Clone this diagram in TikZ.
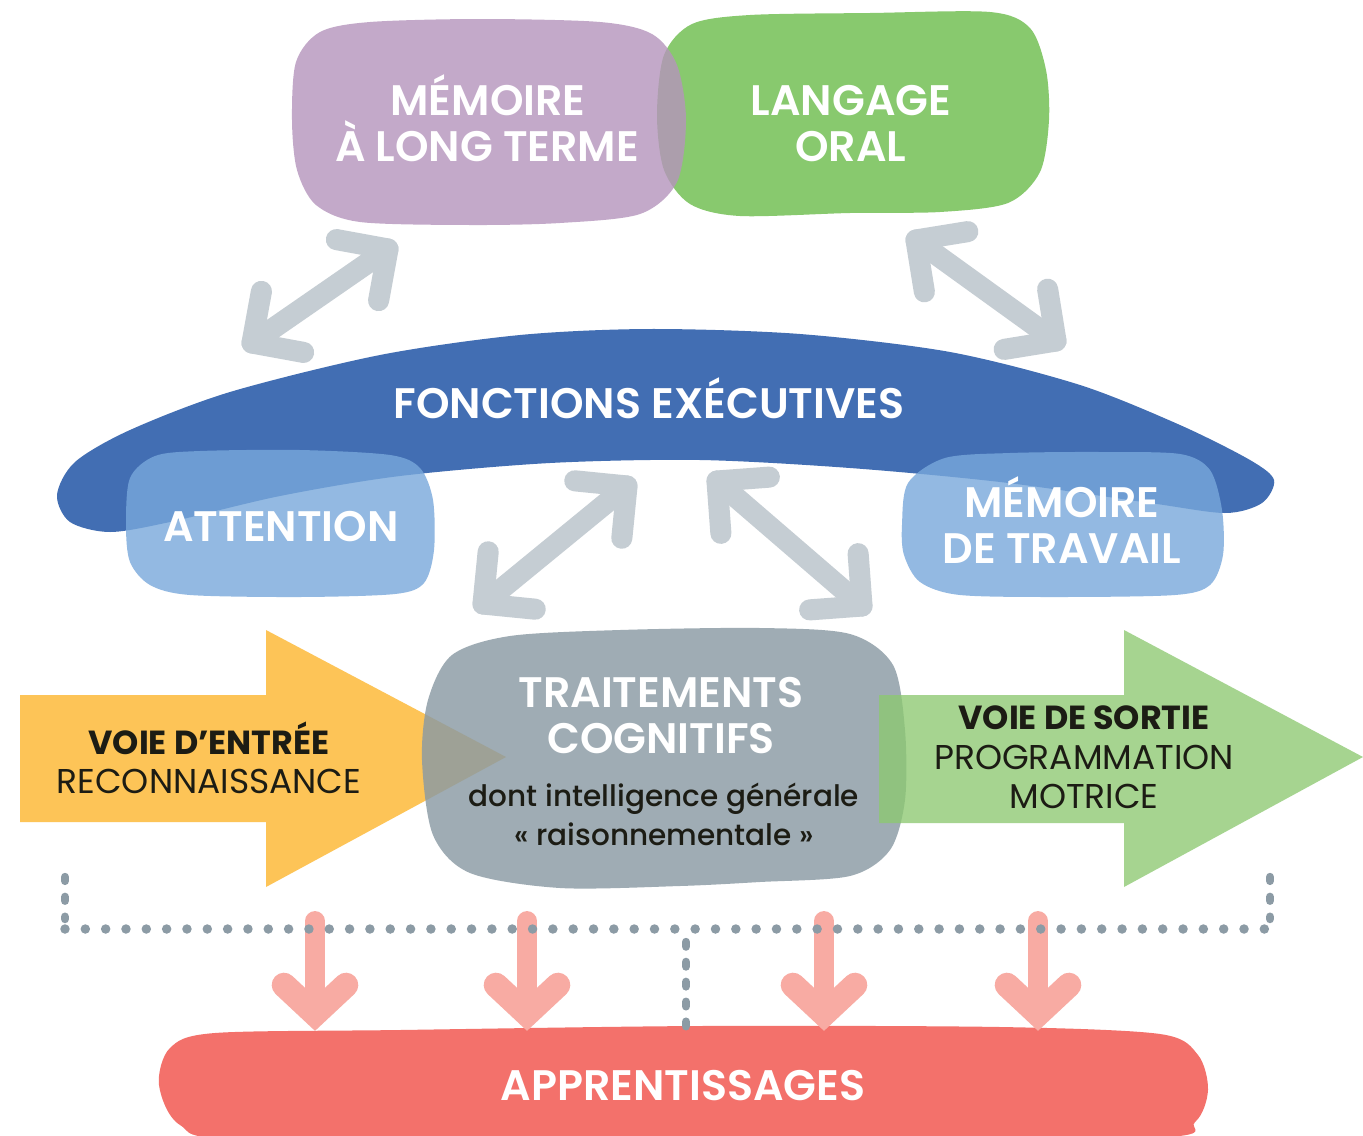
\documentclass[tikz,border=0pt]{standalone}
\usepackage{fontspec}
\setmainfont{Poppins}
\IfFontExistsTF{Poppins SemiBold}{\newfontfamily\semib{Poppins SemiBold}}{\newfontfamily\semib{Poppins}[FakeBold=1.2]}
\IfFontExistsTF{Poppins Medium}{\newfontfamily\medf{Poppins Medium}}{\newfontfamily\medf{Poppins}}
\usetikzlibrary{calc}
\definecolor{greenC}{RGB}{136,201,110}
\definecolor{purpleC}{RGB}{181,148,188}
\definecolor{bandC}{RGB}{66,110,179}
\definecolor{lightC}{RGB}{120,168,219}
\definecolor{garC}{RGB}{197,205,211}
\definecolor{yellowC}{RGB}{253,196,87}
\definecolor{greyC}{RGB}{138,154,164}
\definecolor{outC}{RGB}{141,201,113}
\definecolor{dotC}{RGB}{140,155,165}
\definecolor{pinkC}{RGB}{248,171,163}
\definecolor{redC}{RGB}{243,113,107}
\definecolor{darkC}{RGB}{28,28,20}
\tikzset{
  wlab/.style={text=white, font=\semib\fontsize{24.3}{28}\selectfont, anchor=base, inner sep=0pt},
  dlab/.style={text=darkC, anchor=base, inner sep=0pt},
  garrow/.style={draw=garC, line width=12pt, line cap=round, line join=round},
  pshaft/.style={draw=pinkC, line width=11.3pt, line cap=round},
  phead/.style={draw=pinkC, line width=14pt, line cap=round, line join=miter},
  dotline/.style={draw=dotC, line width=5.4pt, line cap=round, dash pattern=on 0pt off 11.57pt},
  vdotline/.style={draw=dotC, line width=4.8pt, line cap=round, dash pattern=on 2.2pt off 9.1pt},
}
\newcommand\dblarr[2]{%
  \draw[garrow] (#1) -- (#2);
  \draw[garrow] ($(#1)!1.05cm!45:(#2)$) -- (#1) -- ($(#1)!1.05cm!-45:(#2)$);
  \draw[garrow] ($(#2)!1.05cm!45:(#1)$) -- (#2) -- ($(#2)!1.05cm!-45:(#1)$);
}
\newcommand\parr[1]{%
  \draw[pshaft] (#1) ++(0,-93) -- (#1);
  \draw[phead] ($(#1)+(-31,-29)$) -- (#1) -- ($(#1)+(31,-29)$);
}
\begin{document}
\begin{tikzpicture}[x=0.02cm, y=-0.02cm]
\useasboundingbox (0,0) rectangle (1363,1136);
\fill[white] (0,0) rectangle (1363,1136);

% top blobs
\fill[greenC] plot[smooth cycle] coordinates {(657,115) (664,55) (692,24) (750,15) (870,13) (990,12) (1030,28) (1046,70) (1049,120) (1040,172) (1008,203) (940,212) (850,213) (740,216) (690,204) (664,170)};
\fill[purpleC, fill opacity=0.8] plot[smooth cycle] coordinates {(292,120) (296,62) (320,32) (370,22) (480,19) (600,22) (652,34) (677,65) (686,120) (677,182) (640,214) (560,223) (470,225) (360,222) (316,205) (297,170)};

% executive functions band
\fill[bandC] plot[smooth cycle] coordinates {(57,495) (75,462) (130,430) (230,392) (380,355) (520,335) (650,329) (800,334) (950,352) (1080,385) (1180,425) (1250,460) (1274,480) (1262,503) (1225,513) (1150,503) (1000,482) (850,468) (700,460) (550,463) (400,476) (280,496) (170,522) (110,532) (70,522)};
\fill[lightC, fill opacity=0.8] plot[smooth cycle] coordinates {(126,525) (130,478) (155,456) (200,451) (300,450) (390,455) (420,468) (433,500) (434,550) (424,583) (395,594) (300,597) (190,595) (150,585) (130,562)};
\fill[lightC, fill opacity=0.8] plot[smooth cycle] coordinates {(902,525) (908,483) (945,458) (1010,453) (1100,452) (1180,454) (1210,470) (1222,510) (1223,555) (1210,585) (1175,595) (1060,597) (960,595) (920,582) (904,555)};

% grey double arrows
\coordinate (a1s) at (252,343);
\coordinate (a1e) at (388,249);
\coordinate (a2s) at (916,240);
\coordinate (a2e) at (1056,341);
\coordinate (a3s) at (627,486);
\coordinate (a3e) at (483,604);
\coordinate (a4s) at (717,481);
\coordinate (a4e) at (862,606);
\dblarr{a1s}{a1e}
\dblarr{a2s}{a2e}
\dblarr{a3s}{a3e}
\dblarr{a4s}{a4e}

% input arrow, processing blob, output arrow
\fill[yellowC] (20,695) -- (266,695) -- (266,630) -- (506,757) -- (266,887) -- (266,822) -- (20,822) -- cycle;
\fill[greyC, fill opacity=0.82] plot[smooth cycle] coordinates {(422,760) (428,700) (452,655) (510,636) (620,630) (760,628) (850,634) (893,665) (905,730) (905,800) (890,850) (850,876) (760,882) (680,886) (560,888) (470,873) (433,835)};
\fill[outC, fill opacity=0.78] (879,695) -- (1124,695) -- (1124,630) -- (1363,757) -- (1124,887) -- (1124,823) -- (879,823) -- cycle;

% learning blob
\fill[redC] plot[smooth cycle] coordinates {(159,1085) (170,1048) (215,1033) (400,1030) (700,1026) (1000,1027) (1160,1034) (1198,1055) (1208,1090) (1195,1122) (1150,1138) (700,1142) (250,1140) (180,1125)};

% pink arrows
\coordinate (p1) at (315,1014);
\coordinate (p2) at (527,1014);
\coordinate (p3) at (824,1014);
\coordinate (p4) at (1038,1014);
\parr{p1}
\parr{p2}
\parr{p3}
\parr{p4}

% dotted bracket
\coordinate (dl) at (65,929);
\coordinate (dr) at (1270,929);
\coordinate (dlt) at (65,877);
\coordinate (drt) at (1270,877);
\coordinate (dm) at (686,942);
\coordinate (dmb) at (686,1030);
\draw[dotline] (dl) -- (dr);
\draw[vdotline] (dlt) -- ($(dl)+(0,-10)$);
\draw[vdotline] (drt) -- ($(dr)+(0,-10)$);
\draw[vdotline, dash pattern=on 2.6pt off 8.74pt] (dm) -- (dmb);

% texts
\node[wlab] (mlt1) at (488,115) {MÉMOIRE};
\node[wlab] (mlt2) at (487,161) {À LONG TERME};
\node[wlab] (lo1) at (851,115) {LANGAGE};
\node[wlab] (lo2) at (851,161) {ORAL};
\node[wlab] (fe) at (649,418) {FONCTIONS EXÉCUTIVES};
\node[wlab] (att) at (281,541) {ATTENTION};
\node[wlab] (mt1) at (1062,517) {MÉMOIRE};
\node[wlab] (mt2) at (1062,563) {DE TRAVAIL};
\node[wlab] (tc1) at (661,707) {TRAITEMENTS};
\node[wlab] (tc2) at (661,753) {COGNITIFS};
\node[dlab, font=\medf\fontsize{16.8}{20}\selectfont] (ig1) at (664,806) {dont intelligence générale};
\node[dlab, font=\medf\fontsize{16.8}{20}\selectfont] (ig2) at (664,845) {« raisonnementale »};
\node[dlab, font=\bfseries\fontsize{19}{22}\selectfont] (ve1) at (209,754) {VOIE D’ENTRÉE};
\node[dlab, font=\fontsize{19.6}{22}\selectfont] (ve2) at (209,793) {RECONNAISSANCE};
\node[dlab, font=\bfseries\fontsize{19}{22}\selectfont] (vs1) at (1084,729) {VOIE DE SORTIE};
\node[dlab, font=\fontsize{19.6}{22}\selectfont] (vs2) at (1084,769) {PROGRAMMATION};
\node[dlab, font=\fontsize{19.6}{22}\selectfont] (vs3) at (1084,808) {MOTRICE};
\node[wlab] (app) at (683,1100) {APPRENTISSAGES};
\end{tikzpicture}
\end{document}
